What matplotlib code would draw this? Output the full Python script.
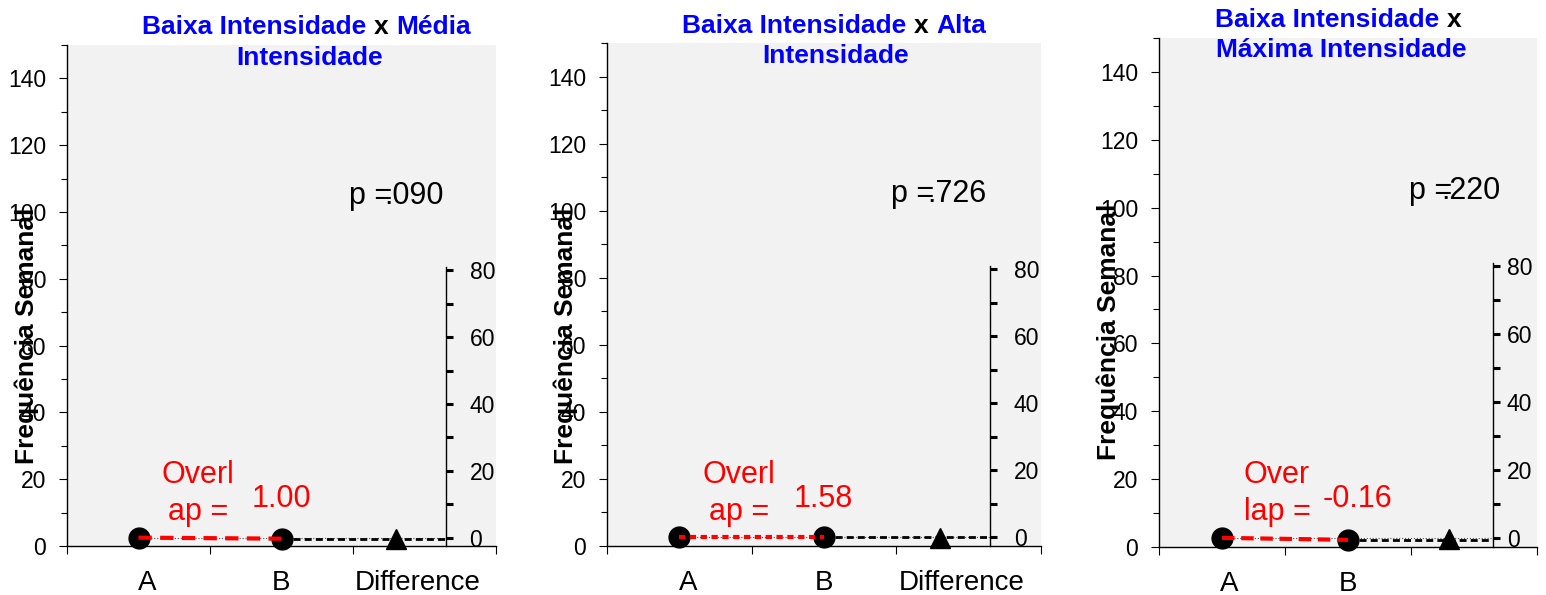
import matplotlib
matplotlib.use('Agg')
import matplotlib.pyplot as plt
from matplotlib.ticker import MultipleLocator, FixedLocator

plt.rcParams['font.family'] = ['Liberation Sans', 'DejaVu Sans']

W, H = 1546, 595

# dados
group_a = 'Baixa Intensidade'
group_b = ['Média Intensidade', 'Alta Intensidade', 'Máxima Intensidade']
cat_labels = [['A', 'B', 'Difference'], ['A', 'B', 'Difference'], ['A', 'B', '']]
mean_a = [2.5, 2.6, 2.7]
mean_b = [2.2, 2.6, 2.1]
diff_ba = [-0.5, -0.1, -0.3]
p_values = ['.090', '.726', '.220']
overlap = [1.00, 1.58, -0.16]
overlap_label = [['Overl', 'ap ='], ['Overl', 'ap ='], ['Over', 'lap =']]
ylabel = 'Frequência Semanal'
right_ticks = [0, 20, 40, 60, 80]

# posições em pixels de cada painel
panels = [
    dict(ax=(67, 45, 496, 546), t1=(142, 34), t2=(310, 65), words=1, ylab=(27, 336),
         p=(349, 444, 204), ov=(198, 483, 520), val=(252, 507), rpad=12, dash=(3.2, 2)),
    dict(ax=(607, 43, 1041, 546), t1=(682, 33), t2=(836, 63), words=1, ylab=(566, 336),
         p=(891, 987, 202), ov=(739, 483, 520), val=(794, 507), rpad=12, dash=(1.5, 1.1)),
    dict(ax=(1159, 38, 1537, 547), t1=(1215, 27), t2=(1341, 57), words=0, ylab=(1109, 332),
         p=(1409, 1500, 199), ov=(1277, 483, 520), val=(1323, 507), rpad=5, dash=(3.0, 1.6)),
]

x_a, x_b, x_d, x_r = 0.5, 1.5, 2.3, 2.65
label_pos = [0.56, 1.5, 2.45]


def fx(x):
    return x / W


def fy(y):
    return 1 - y / H


fig = plt.figure(figsize=(W / 100, H / 100), dpi=100)

for i, lay in enumerate(panels):
    l, t, r, b = lay['ax']
    ax = fig.add_axes([fx(l), fy(b), (r - l) / W, (b - t) / H])
    ax.set_facecolor('#f2f2f2')
    ax.set_xlim(0, 3)
    ax.set_ylim(0, 150)
    for s in ['top', 'right']:
        ax.spines[s].set_visible(False)
    for s in ['left', 'bottom']:
        ax.spines[s].set_linewidth(1)
    ax.yaxis.set_major_locator(MultipleLocator(20))
    ax.yaxis.set_minor_locator(MultipleLocator(10))
    ax.tick_params(axis='y', which='major', length=6, width=0.8, labelsize=16.5, pad=9)
    ax.tick_params(axis='y', which='minor', length=4.5, width=0.8)
    ax.set_xticks(label_pos, cat_labels[i])
    ax.xaxis.set_minor_locator(FixedLocator([0, 1, 2, 3]))
    ax.tick_params(axis='x', which='major', length=0, labelsize=20, pad=17)
    ax.tick_params(axis='x', which='minor', length=6, width=0.8)

    a, bb = mean_a[i], mean_b[i]
    ax.plot([x_a, x_r], [a, a], color='#555555', lw=0.8, ls=':', zorder=2, clip_on=False)
    ax.plot([x_b, x_r], [bb, bb], color='black', lw=2.0, ls=(0, (2.5, 1.5)), zorder=2, clip_on=False)
    ax.plot([x_a, x_b], [a, bb], 'o', color='black', ms=15, zorder=3, clip_on=False)
    ax.plot([x_a, x_b], [a, bb], color='red', lw=3, ls=(0, lay['dash']), zorder=4, clip_on=False)

    # eixo da diferença
    ax2 = ax.twinx()
    ax2.set_ylim(-a, 150 - a)
    for s in ['top', 'left', 'bottom']:
        ax2.spines[s].set_visible(False)
    ax2.spines['right'].set_position(('data', x_r))
    ax2.spines['right'].set_bounds(-a, 81)
    ax2.spines['right'].set_linewidth(1)
    ax2.yaxis.set_major_locator(FixedLocator(right_ticks))
    ax2.yaxis.set_minor_locator(FixedLocator([10, 30, 50, 70]))
    ax2.tick_params(axis='y', which='both', direction='out', length=5, width=2.2,
                    labelsize=16.5, pad=lay['rpad'])
    ax2.plot([x_d], [diff_ba[i]], '^', color='black', ms=14, clip_on=False)

    # título em duas cores
    words = group_b[i].split()
    n = lay['words']
    x0, y0 = lay['t1']
    tk = dict(fontsize=19, fontweight='bold')
    txt = fig.text(fx(x0), fy(y0), group_a, color='blue', va='baseline', ha='left', **tk)
    txt = ax.annotate('x', xy=(1, 0), xycoords=txt, xytext=(7.5, 0), textcoords='offset pixels',
                      color='black', va='bottom', ha='left', annotation_clip=False, **tk)
    if n:
        ax.annotate(' '.join(words[:n]), xy=(1, 0), xycoords=txt, xytext=(7.5, 0),
                    textcoords='offset pixels', color='blue', va='bottom', ha='left',
                    annotation_clip=False, **tk)
    x2, y2 = lay['t2']
    fig.text(fx(x2), fy(y2), ' '.join(words[n:]), color='blue', va='baseline', ha='center', **tk)

    fig.text(fx(lay['ylab'][0]), fy(lay['ylab'][1]), ylabel, rotation=90, fontsize=19,
             fontweight='bold', ha='center', va='center')

    px0, px1, py = lay['p']
    fig.text(fx(px0), fy(py), 'p =', fontsize=22, va='baseline', ha='left')
    fig.text(fx(px1), fy(py), p_values[i], fontsize=22, va='baseline', ha='right')

    ox, oy1, oy2 = lay['ov']
    fig.text(fx(ox), fy(oy1), overlap_label[i][0], fontsize=22, color='red', va='baseline', ha='center')
    fig.text(fx(ox), fy(oy2), overlap_label[i][1], fontsize=22, color='red', va='baseline', ha='center')
    vx, vy = lay['val']
    fig.text(fx(vx), fy(vy), '%.2f' % overlap[i], fontsize=22, color='red', va='baseline', ha='left')

fig.savefig('out.png', dpi=100)
